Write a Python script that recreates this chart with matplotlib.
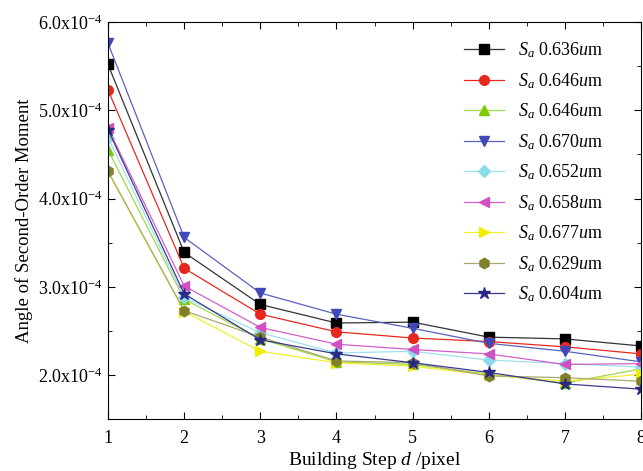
import matplotlib
matplotlib.use("Agg")
import matplotlib.pyplot as plt
from matplotlib.ticker import MultipleLocator, FuncFormatter

plt.rcParams["font.family"] = ["Liberation Serif", "DejaVu Serif"]
plt.rcParams["mathtext.fontset"] = "custom"
plt.rcParams["mathtext.rm"] = "Liberation Serif"
plt.rcParams["mathtext.it"] = "Liberation Serif:italic"

# ─── Data (values in units of 1e-4) ──────────────────────────────────────────
steps = [1, 2, 3, 4, 5, 6, 7, 8]
labels = ["0.636", "0.646", "0.646", "0.670", "0.652", "0.658", "0.677", "0.629", "0.604"]

s_0636 = [5.52, 3.39, 2.80, 2.59, 2.60, 2.43, 2.41, 2.33]
s_0646a = [5.23, 3.21, 2.69, 2.49, 2.42, 2.38, 2.32, 2.24]
s_0646b = [4.55, 2.86, 2.41, 2.15, 2.12, 2.01, 1.91, 2.07]
s_0670 = [5.76, 3.56, 2.93, 2.69, 2.53, 2.36, 2.27, 2.15]
s_0652 = [4.69, 2.88, 2.48, 2.25, 2.27, 2.17, 2.13, 2.09]
s_0658 = [4.80, 3.01, 2.54, 2.35, 2.29, 2.24, 2.12, 2.13]
s_0677 = [4.30, 2.72, 2.27, 2.14, 2.10, 2.00, 1.93, 2.01]
s_0629 = [4.31, 2.73, 2.43, 2.16, 2.14, 1.99, 1.97, 1.93]
s_0604 = [4.78, 2.92, 2.40, 2.24, 2.14, 2.03, 1.90, 1.84]

series = [s_0636, s_0646a, s_0646b, s_0670, s_0652, s_0658, s_0677, s_0629, s_0604]

# ─── Styles ──────────────────────────────────────────────────────────────────
colors = ["#000000", "#E8281E", "#7DCB00", "#4049B8", "#8DDCEB",
          "#D050C0", "#F2EE00", "#80802A", "#2A2A85"]
line_colors = ["#333333", "#E8281E", "#9ED84A", "#5A62C0", "#9EE0EE",
               "#D060C8", "#F2EE30", "#A8A870", "#3A3A90"]
markers = ["s", "o", "^", "v", "D", "<", ">", "h", "*"]
msizes = [6.5, 7, 7.5, 7.5, 6.5, 7.5, 7.5, 7.5, 9]

fig = plt.figure(figsize=(6.43, 4.71), dpi=100)
ax = fig.add_axes([0.168, 0.110, 0.829, 0.843])

for vals, lab, c, lc, m, ms in zip(series, labels, colors, line_colors, markers, msizes):
    ax.plot(steps, [v * 1e-4 for v in vals], color=lc, lw=0.9,
            marker=m, markersize=ms, markerfacecolor=c, markeredgecolor=c,
            label=r"$S_a$ " + lab + r"$u$m")

ax.set_xlim(1, 8)
ax.set_ylim(1.5e-4, 6.0e-4)
ax.xaxis.set_major_locator(MultipleLocator(1))
ax.xaxis.set_minor_locator(MultipleLocator(0.5))
ax.yaxis.set_major_locator(MultipleLocator(1e-4))
ax.yaxis.set_minor_locator(MultipleLocator(0.5e-4))
ax.yaxis.set_major_formatter(FuncFormatter(lambda v, p: f"{v * 1e4:.1f}x10$^{{-4}}$"))
ax.tick_params(which="both", direction="in", top=True, right=True, labelsize=13)
ax.tick_params(which="major", length=5)
ax.tick_params(which="minor", length=3)
ax.tick_params(axis="x", pad=8)

ax.set_xlabel(r"Building Step $d$ /pixel", fontsize=14, labelpad=2)
ax.set_ylabel("Angle of Second-Order Moment", fontsize=13.5, labelpad=4)

ax.legend(loc="upper right", frameon=False, fontsize=13, handlelength=2.2,
          labelspacing=0.6, bbox_to_anchor=(0.96, 0.995))

fig.savefig("out.png", dpi=100)
